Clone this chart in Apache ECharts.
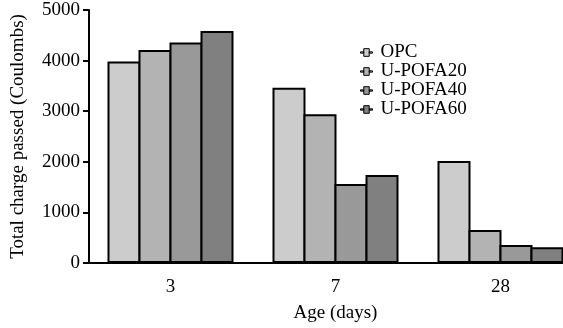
<!DOCTYPE html>
<html>
<head>
<meta charset="utf-8">
<script src="https://cdn.jsdelivr.net/npm/echarts@6/dist/echarts.min.js"></script>
<style>
  html, body { margin: 0; padding: 0; background: #fff; }
  #chart { width: 563px; height: 328px; }
</style>
</head>
<body>
<div id="chart"></div>
<script>
// values
const ages = ["3", "7", "28"];
const opc = [3980, 3465, 2015];
const upofa20 = [4210, 2940, 650];
const upofa40 = [4360, 1560, 355];
const upofa60 = [4585, 1740, 310];
const yTicks = [0, 1000, 2000, 3000, 4000, 5000];

const font = "Liberation Serif";
const fs = 19;
const legendIcon =
  "path://M0,4.4L3,4.4L3,5.6L0,5.6Z M3,1.5L8,1.5L8,8.5L3,8.5Z M8,4.4L11,4.4L11,5.6L8,5.6Z";

const chart = echarts.init(document.getElementById("chart"));

// echarts keeps the border inside the bar, so neighbours overlap by the
// border width to share one outline
function barSeries(name, data, color) {
  return {
    name: name,
    type: "bar",
    data: data,
    barWidth: 33,
    barGap: "-6.06%",
    itemStyle: { color: color, borderColor: "#000", borderWidth: 2 },
  };
}

chart.setOption({
  animation: false,
  textStyle: { fontFamily: font },
  // plot runs past the right edge, the third group is cut like the original
  grid: { left: 88, width: 495, top: 10, bottom: 65, outerBoundsMode: "none" },
  legend: {
    orient: "vertical",
    left: 355,
    top: 38,
    itemGap: 0,
    itemWidth: 12,
    itemHeight: 9,
    icon: legendIcon,
    itemStyle: { borderColor: "#000", borderWidth: 1 },
    textStyle: { fontFamily: font, fontSize: fs, color: "#000", padding: [0, 0, 0, 3] },
    data: ["OPC", "U-POFA20", "U-POFA40", "U-POFA60"],
  },
  xAxis: {
    type: "category",
    data: ages,
    name: "Age (days)",
    nameLocation: "middle",
    nameGap: 41,
    nameTextStyle: { fontFamily: font, fontSize: fs, color: "#000" },
    axisLine: { lineStyle: { color: "#000", width: 2 } },
    axisTick: { alignWithLabel: true, length: 7, lineStyle: { color: "#000", width: 2 } },
    axisLabel: { fontFamily: font, fontSize: fs, color: "#000", margin: 15 },
  },
  yAxis: {
    type: "value",
    min: yTicks[0],
    max: yTicks[yTicks.length - 1],
    interval: 1000,
    name: "Total charge passed (Coulombs)",
    nameLocation: "middle",
    nameGap: 61,
    nameTextStyle: { fontFamily: font, fontSize: fs, color: "#000" },
    offset: -1,
    axisLine: { show: true, lineStyle: { color: "#000", width: 2 } },
    axisTick: { show: true, length: 6, lineStyle: { color: "#000", width: 2 } },
    axisLabel: {
      fontFamily: font, fontSize: fs, color: "#000", margin: 9,
      formatter: (v) => String(v),
    },
    splitLine: { show: false },
  },
  series: [
    barSeries("OPC", opc, "#cccccc"),
    barSeries("U-POFA20", upofa20, "#b3b3b3"),
    barSeries("U-POFA40", upofa40, "#999999"),
    barSeries("U-POFA60", upofa60, "#808080"),
  ],
});
</script>
</body>
</html>
